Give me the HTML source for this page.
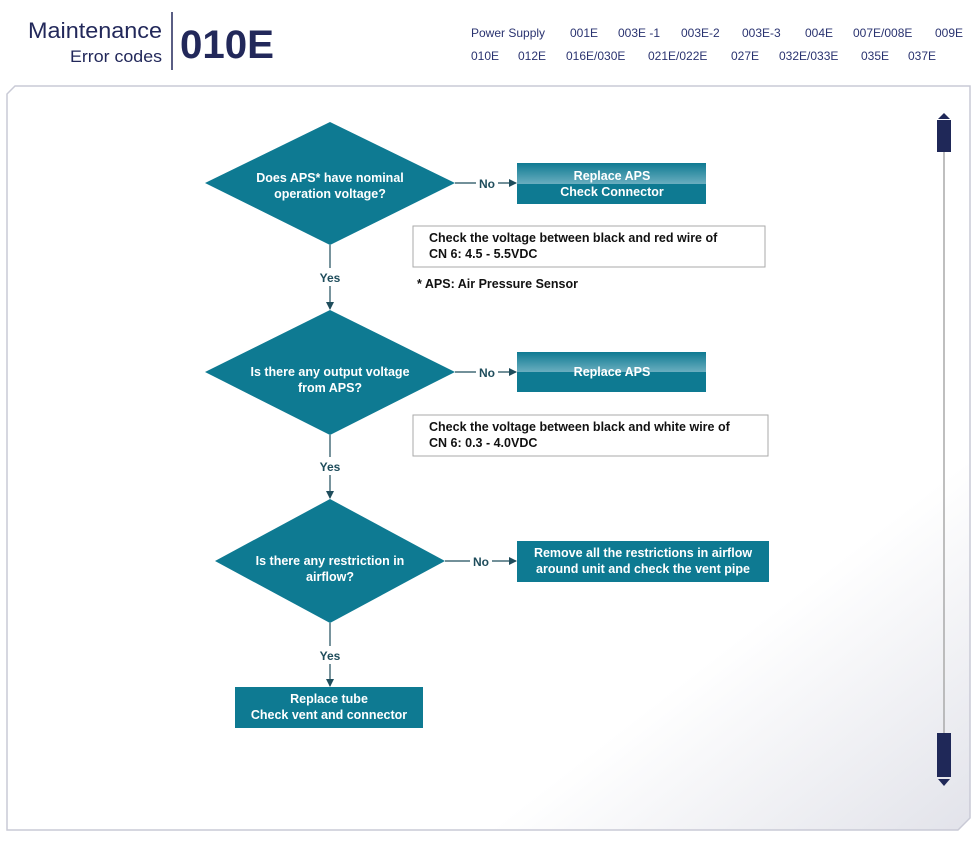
<!DOCTYPE html>
<html><head><meta charset="utf-8"><style>
html,body{margin:0;padding:0;background:#fff;}
body{width:978px;height:838px;overflow:hidden;font-family:"Liberation Sans",sans-serif;}
</style></head><body>
<svg width="978" height="838" viewBox="0 0 978 838" xmlns="http://www.w3.org/2000/svg" font-family="Liberation Sans, sans-serif">
<defs>
<linearGradient id="pg" x1="0" y1="0" x2="1" y2="1">
<stop offset="0.75" stop-color="#ffffff"/><stop offset="1" stop-color="#e2e3ea"/></linearGradient>
<linearGradient id="bt" x1="0" y1="0" x2="0" y2="1">
<stop offset="0" stop-color="#0e7a92"/><stop offset="1" stop-color="#6aaebf"/></linearGradient>
<marker id="ar" markerWidth="8" markerHeight="8" refX="7" refY="4" orient="auto" markerUnits="userSpaceOnUse">
<path d="M0,0 L8,4 L0,8 z" fill="#1f4d5c"/></marker>
</defs>
<!-- header -->
<text x="162" y="38" font-size="22" fill="#22285a" text-anchor="end" textLength="134" lengthAdjust="spacingAndGlyphs">Maintenance</text>
<text x="162" y="62" font-size="17" fill="#22285a" text-anchor="end" textLength="92" lengthAdjust="spacingAndGlyphs">Error codes</text>
<text x="180" y="58" font-size="40" font-weight="bold" fill="#22285a" textLength="94" lengthAdjust="spacingAndGlyphs">010E</text>
<g font-size="12" fill="#2a3370">
<text x="471" y="37">Power Supply</text><text x="570" y="37">001E</text><text x="618" y="37">003E -1</text>
<text x="681" y="37">003E-2</text><text x="742" y="37">003E-3</text><text x="805" y="37">004E</text>
<text x="853" y="37">007E/008E</text><text x="935" y="37">009E</text>
<text x="471" y="60">010E</text><text x="518" y="60">012E</text><text x="566" y="60">016E/030E</text>
<text x="648" y="60">021E/022E</text><text x="731" y="60">027E</text><text x="779" y="60">032E/033E</text>
<text x="861" y="60">035E</text><text x="908" y="60">037E</text>
</g>
<line x1="172" y1="12" x2="172" y2="70" stroke="#22285a" stroke-width="1.5"/>
<!-- panel -->
<path d="M15,86 L970,86 L970,818 L958,830 L7,830 L7,94 Z" fill="url(#pg)" stroke="#c9cad6" stroke-width="1.5"/>
<!-- scrollbar -->
<line x1="944" y1="150" x2="944" y2="735" stroke="#aaa" stroke-width="1.5"/>
<path d="M938,119 L944,113 L950,119 Z" fill="#1f2858"/>
<rect x="937" y="120" width="14" height="32" fill="#1f2858"/>
<rect x="937" y="733" width="14" height="44" fill="#1f2858"/>
<path d="M938,779 L944,786 L950,779 Z" fill="#1f2858"/>
<!-- connectors -->
<g stroke="#1f4d5c" stroke-width="1.2" fill="none">
<line x1="455" y1="183" x2="476" y2="183"/><line x1="498" y1="183" x2="516" y2="183" marker-end="url(#ar)"/>
<line x1="455" y1="372" x2="476" y2="372"/><line x1="498" y1="372" x2="516" y2="372" marker-end="url(#ar)"/>
<line x1="445" y1="561" x2="470" y2="561"/><line x1="492" y1="561" x2="516" y2="561" marker-end="url(#ar)"/>
<line x1="330" y1="245" x2="330" y2="268"/><line x1="330" y1="286" x2="330" y2="309" marker-end="url(#ar)"/>
<line x1="330" y1="435" x2="330" y2="457"/><line x1="330" y1="475" x2="330" y2="498" marker-end="url(#ar)"/>
<line x1="330" y1="623" x2="330" y2="646"/><line x1="330" y1="664" x2="330" y2="686" marker-end="url(#ar)"/>
</g>
<g font-size="12" font-weight="bold" fill="#1f4d5c" text-anchor="middle">
<text x="487" y="188">No</text><text x="487" y="377">No</text><text x="481" y="566">No</text>
<text x="330" y="282">Yes</text><text x="330" y="471">Yes</text><text x="330" y="660">Yes</text>
</g>
<!-- diamonds -->
<g fill="#0e7a92">
<polygon points="330,122 455,183 330,245 205,183"/>
<polygon points="330,310 455,372 330,435 205,372"/>
<polygon points="330,499 445,561 330,623 215,561"/>
</g>
<g font-size="12.5" font-weight="bold" fill="#fff" text-anchor="middle">
<text x="330" y="182">Does APS* have nominal</text><text x="330" y="198">operation voltage?</text>
<text x="330" y="376">Is there any output voltage</text><text x="330" y="392">from APS?</text>
<text x="330" y="565">Is there any restriction in</text><text x="330" y="581">airflow?</text>
</g>
<!-- boxes -->
<rect x="517" y="163" width="189" height="21" fill="url(#bt)"/>
<rect x="517" y="184" width="189" height="20" fill="#0e7a92"/>
<rect x="517" y="352" width="189" height="20" fill="url(#bt)"/>
<rect x="517" y="372" width="189" height="20" fill="#0e7a92"/>
<rect x="517" y="541" width="252" height="41" fill="#0e7a92"/>
<rect x="235" y="687" width="188" height="41" fill="#0e7a92"/>
<g font-size="12.5" font-weight="bold" fill="#fff" text-anchor="middle">
<text x="612" y="180">Replace APS</text><text x="612" y="196">Check Connector</text>
<text x="612" y="376">Replace APS</text>
<text x="643" y="557">Remove all the restrictions in airflow</text><text x="643" y="573">around unit and check the vent pipe</text>
<text x="329" y="703">Replace tube</text><text x="329" y="719">Check vent and connector</text>
</g>
<!-- notes -->
<rect x="413" y="226" width="352" height="41" fill="#fff" stroke="#aaa" stroke-width="1"/>
<rect x="413" y="415" width="355" height="41" fill="#fff" stroke="#aaa" stroke-width="1"/>
<g font-size="12.5" font-weight="bold" fill="#111">
<text x="429" y="242">Check the voltage between black and red wire of</text><text x="429" y="258">CN 6: 4.5 - 5.5VDC</text>
<text x="429" y="431">Check the voltage between black and white wire of</text><text x="429" y="447">CN 6: 0.3 - 4.0VDC</text>
<text x="417" y="288">* APS: Air Pressure Sensor</text>
</g>
</svg>
</body></html>
